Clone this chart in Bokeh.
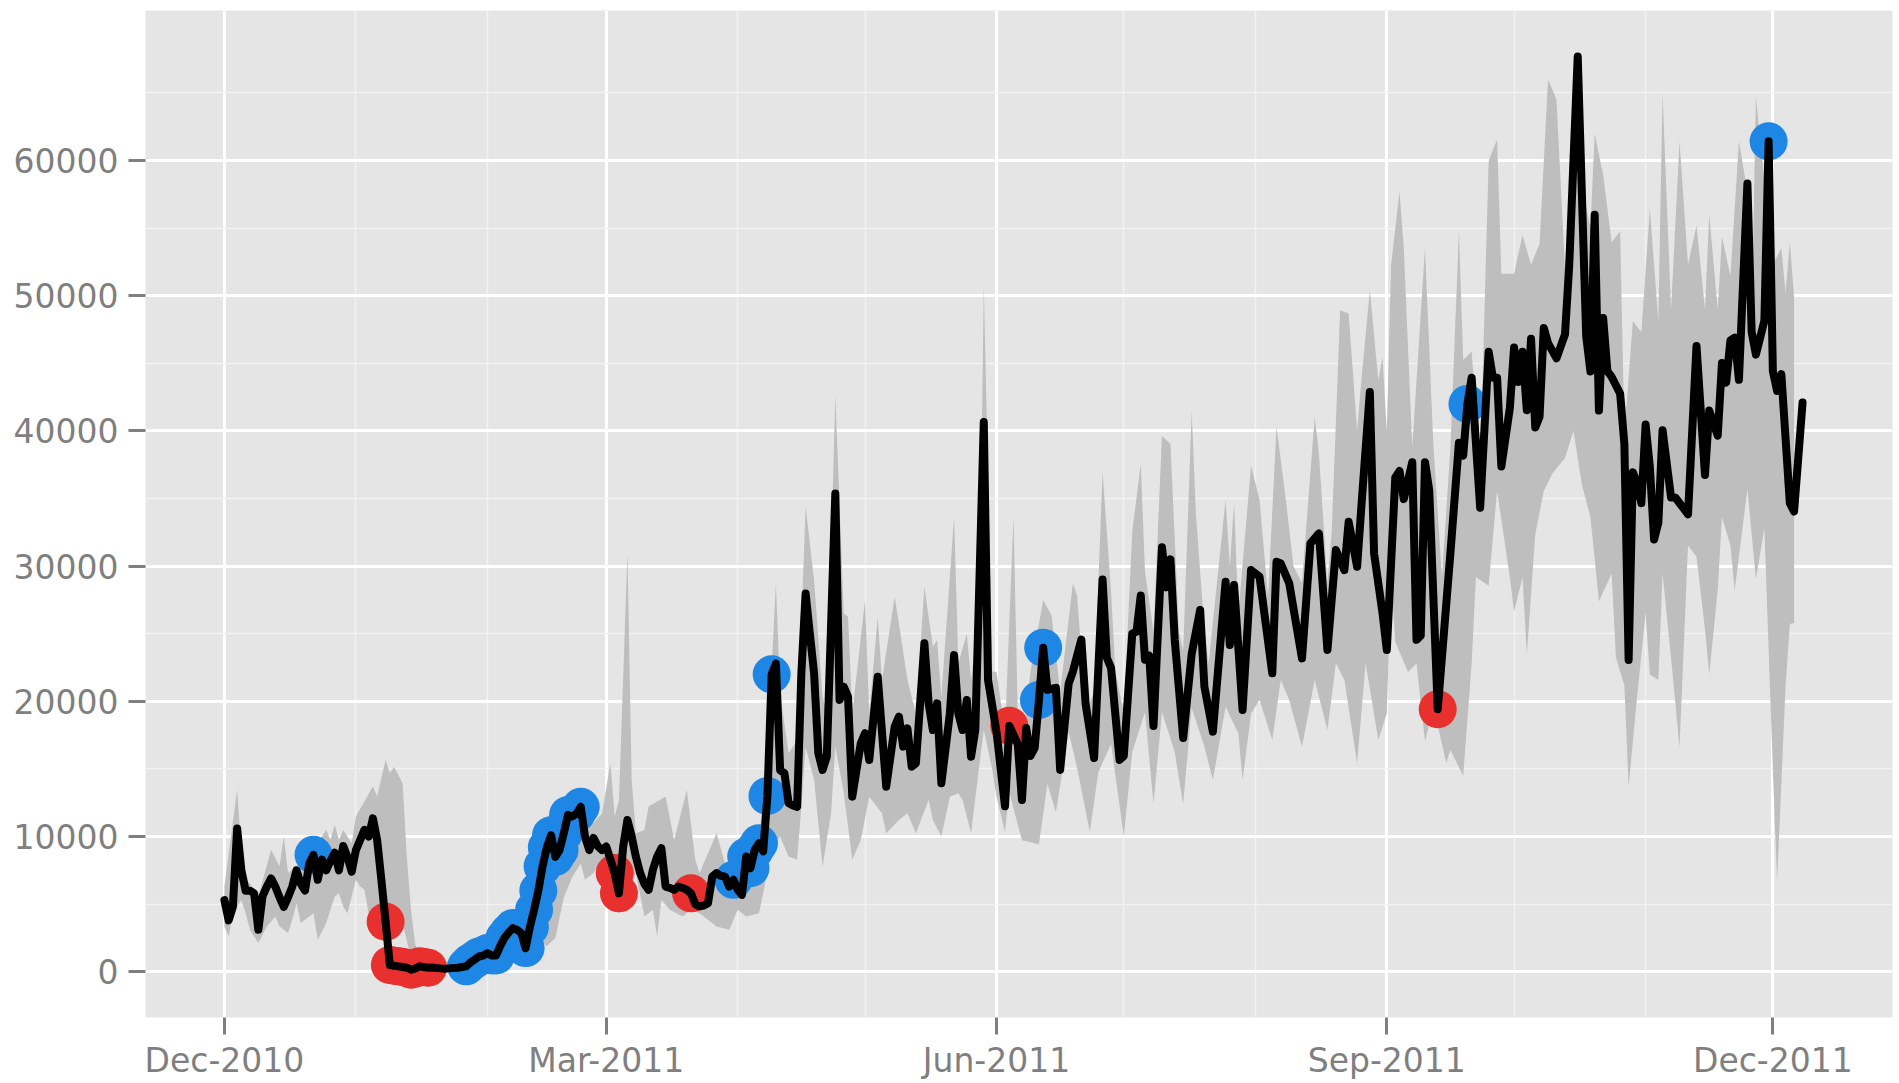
import pandas as pd
from bokeh.plotting import figure
from bokeh.models import Range1d, FixedTicker, DatetimeTickFormatter
from bokeh.embed import file_html
from bokeh.resources import INLINE

START = pd.Timestamp("2010-12-01")

# ---- observed daily series (day offset from 2010-12-01, value) ----
line_day = [0, 1, 2, 3, 4, 5, 6, 7, 8, 9, 10, 11, 12, 13, 14, 15, 16, 17, 18, 19, 20, 21, 22, 23, 24, 25, 26, 27, 28, 29,
            30, 31, 32, 33, 34, 35, 36, 37, 38, 39, 40, 41, 42, 43, 44, 45, 46, 47, 48, 49, 50, 51, 52, 53, 54, 55, 56, 57,
            58, 59, 60, 61, 62, 63, 64, 65, 66, 67, 68, 69, 70, 71, 72, 73, 74, 75, 76, 77, 78, 79, 80, 81, 82, 83, 84, 85,
            86, 87, 88, 89, 90, 91, 92, 93, 94, 95, 96, 97, 98, 99, 100, 101, 102, 103, 104, 105, 106, 107, 108, 109, 110,
            111, 112, 113, 114, 115, 116, 117, 118, 119, 120, 121, 122, 123, 124, 125, 126, 127, 128, 129, 130, 131, 132,
            133, 134, 135, 136, 137, 138, 139, 140, 141, 142, 144, 145, 146, 147, 148, 150, 151, 152, 154, 156, 158, 159,
            160, 161, 162, 163, 165, 166, 167, 168, 169, 171, 172, 173, 174, 175, 176, 177, 179, 180, 182, 184, 185, 187,
            188, 189, 190, 191, 192, 193, 194, 196, 197, 199, 200, 202, 203, 205, 207, 208, 209, 211, 212, 214, 215, 216,
            217, 218, 219, 221, 222, 223, 224, 226, 228, 230, 231, 233, 236, 237, 238, 240, 242, 244, 247, 248, 249, 251,
            254, 256, 258, 260, 262, 264, 265, 267, 268, 270, 271, 273, 274, 276, 277, 278, 280, 281, 282, 283, 284, 286,
            289, 291, 292, 293, 294, 296, 298, 299, 300, 301, 303, 304, 305, 306, 307, 308, 309, 310, 311, 312, 314, 316,
            317, 319, 321, 322, 323, 324, 325, 326, 327, 328, 329, 330, 331, 332, 333, 334, 335, 336, 337, 338, 339, 341,
            342, 344, 345, 347, 349, 350, 352, 353, 354, 355, 356, 357, 359, 360, 361, 363, 364, 365, 366, 367, 369, 370,
            372]
line_val = [5300, 3800, 4800, 10600, 7500, 6000, 6000, 5800, 3100, 5600, 6300, 6900, 6300, 5500, 4800, 5500, 6300, 7500,
            6500, 6000, 8000, 8650, 6800, 8300, 7500, 8200, 8800, 7500, 9300, 8500, 7400, 9000, 9750, 10500, 10000, 11350,
            9750, 6800, 3700, 500, 450, 400, 350, 300, 150, 250, 400, 350, 300, 320, 280, 250, 230, 250, 270, 300, 350, 400,
            700, 900, 1130, 1200, 1380, 1200, 1200, 1900, 2500, 2900, 3230, 3100, 2860, 1750, 3300, 4580, 6000, 7800, 9200,
            10100, 8500, 9000, 10250, 11600, 11480, 11700, 12200, 10000, 9000, 9900, 9300, 9000, 9260, 8300, 7300, 5800,
            9260, 11230, 10000, 8500, 7300, 6500, 6060, 7540, 8500, 9140, 6300, 6200, 6060, 6300, 6200, 6060, 5800, 5000,
            4830, 4900, 5070, 7040, 7300, 7100, 7040, 6300, 6800, 6060, 5690, 8520, 7660, 9010, 9500, 8900, 13000, 22000,
            22800, 14900, 14700, 12460, 12300, 12200, 22070, 27980, 25000, 22070, 16160, 14930, 15910, 35370, 20100, 21080,
            20340, 12950, 16900, 17640, 15660, 21820, 13690, 18130, 18870, 16650, 18000, 15170, 15420, 24290, 19850, 17880,
            19850, 13940, 19110, 23420, 19110, 17880, 20100, 15910, 17880, 40660, 21580, 17740, 12240, 18200, 16850, 12700,
            18030, 15960, 16560, 20100, 23970, 20860, 21000, 14930, 21300, 22200, 24570, 19820, 15810, 29020, 23230, 22480,
            15670, 15960, 25010, 25160, 27830, 23080, 23380, 18180, 31400, 28430, 30500, 24570, 17290, 23500, 26760, 21090,
            17760, 28850, 24170, 28600, 19360, 29710, 29220, 22080, 30330, 30200, 28730, 23180, 31690, 32420, 23800, 31190,
            29710, 33280, 29960, 34390, 42890, 30940, 26510, 23800, 36560, 37040, 34960, 37690, 24550, 24860, 37690, 35600,
            19420, 31000, 39130, 38170, 42000, 43940, 34320, 45860, 43940, 43940, 37370, 41690, 46180, 43620, 45860, 41540,
            46820, 40250, 41050, 47620, 46500, 45380, 47140, 52270, 67700, 47000, 44400, 56000, 41510, 48350, 44420, 44000,
            43380, 42760, 39020, 23060, 36950, 36120, 34660, 40470, 37360, 31970, 33210, 40060, 35080, 35080, 34250, 33840,
            46280, 36740, 41510, 39650, 45030, 43580, 46700, 46900, 43790, 58310, 47320, 45650, 48150, 61420, 44420, 42960,
            44200, 34660, 34040, 42100]

# ---- expected band (upper / lower bounds) ----
upper_day = [0, 3, 4, 5, 6, 8, 11, 13, 14, 15, 17, 19, 21, 24, 25, 26, 27, 28, 30, 31, 33, 35, 36, 38, 39, 40, 42, 43, 44,
             45, 46, 50, 56, 58, 62, 64, 66, 68, 70, 72, 74, 76, 78, 80, 82, 84, 85, 87, 89, 91, 92, 93, 95, 96, 97, 99,
             100, 104, 106, 109, 111, 112, 116, 118, 120, 123, 126, 128, 130, 131, 133, 135, 137, 139, 141, 142, 144, 146,
             147, 148, 151, 152, 154, 155, 158, 159, 161, 163, 165, 167, 168, 169, 172, 173, 175, 176, 178, 179, 181, 182,
             184, 186, 187, 188, 190, 193, 195, 197, 200, 201, 203, 205, 207, 209, 210, 212, 214, 216, 217, 219, 221, 223,
             225, 226, 228, 229, 231, 232, 236, 237, 238, 239, 242, 244, 246, 248, 250, 252, 254, 257, 258, 260, 261, 263,
             265, 267, 268, 270, 272, 273, 274, 275, 277, 278, 280, 283, 285, 287, 289, 291, 292, 294, 296, 298, 300, 301,
             304, 306, 308, 310, 312, 314, 316, 318, 319, 320, 322, 323, 325, 327, 329, 330, 332, 334, 336, 338, 339, 341,
             343, 345, 347, 349, 350, 352, 353, 355, 357, 359, 360, 361, 363, 365, 367, 368, 369, 370]
upper_val = [6300, 13450, 9000, 6800, 6550, 5570, 9000, 7800, 10000, 7300, 7800, 8500, 9000, 10500, 9750, 10860, 9750,
             10500, 9500, 11480, 12590, 13700, 12960, 15660, 14680, 15170, 13940, 8500, 4500, 2000, 1000, 800, 800, 1500,
             2000, 2500, 3200, 4000, 3500, 5500, 8000, 10500, 9500, 11500, 13000, 13500, 11700, 11000, 11700, 15420, 11480,
             12700, 30940, 14190, 10250, 10490, 12220, 12960, 9750, 13450, 8280, 7290, 10250, 8030, 8280, 9260, 9750, 16160,
             28700, 20590, 16160, 17140, 34400, 28960, 20340, 19110, 42630, 26500, 26250, 19110, 27490, 19110, 26250, 21580,
             27730, 25760, 21580, 19110, 28470, 24040, 24530, 20340, 33640, 22800, 25020, 21580, 26500, 50800, 22190, 22190,
             17740, 33620, 19220, 16850, 22190, 27500, 26340, 20700, 28720, 27830, 19220, 20700, 36960, 28130, 22190, 19220,
             32590, 37550, 29610, 25160, 39630, 39040, 25160, 23680, 41500, 33900, 25280, 22820, 34930, 30000, 34690, 26510,
             37400, 34930, 27740, 40300, 35420, 30000, 28760, 41040, 38330, 28760, 32460, 48930, 48680, 40050, 43750, 50410,
             43750, 45480, 40000, 52270, 57720, 53530, 38820, 53530, 38820, 29190, 38820, 54800, 45240, 45870, 37220, 59960,
             61560, 51630, 51630, 54490, 52270, 53850, 66000, 64500, 52000, 60000, 66000, 58000, 55000, 62000, 58930, 53950,
             54780, 39850, 48140, 47310, 56440, 48140, 64940, 48970, 61420, 52290, 55200, 48970, 56030, 48970, 54370, 51460,
             61420, 57690, 48140, 64720, 58520, 52290, 53530, 50210, 54000, 49900]
lower_day = [0, 1, 2, 4, 5, 6, 8, 10, 12, 13, 15, 16, 17, 18, 21, 22, 24, 26, 27, 28, 29, 31, 32, 33, 34, 36, 38, 40, 42,
             44, 46, 56, 58, 62, 66, 70, 72, 74, 76, 78, 80, 82, 84, 85, 87, 89, 91, 93, 95, 97, 99, 101, 102, 103, 105,
             108, 110, 112, 116, 119, 121, 123, 126, 127, 129, 131, 133, 135, 136, 137, 139, 141, 143, 144, 146, 148, 150,
             152, 155, 156, 159, 161, 163, 166, 167, 169, 171, 173, 174, 176, 178, 179, 181, 182, 184, 185, 188, 192, 194,
             196, 199, 201, 204, 206, 209, 212, 214, 217, 219, 221, 224, 226, 228, 231, 233, 236, 239, 240, 242, 244, 247,
             249, 251, 254, 257, 260, 262, 264, 267, 269, 272, 274, 275, 276, 279, 281, 283, 285, 288, 289, 292, 294, 295,
             298, 300, 303, 304, 306, 307, 309, 311, 313, 316, 318, 320, 322, 324, 327, 328, 330, 331, 333, 335, 336, 338,
             339, 341, 343, 345, 347, 349, 350, 352, 353, 355, 356, 359, 361, 363, 365, 366, 368, 369, 370]
lower_val = [3350, 2610, 4330, 5300, 4330, 3100, 2120, 3350, 4090, 3350, 2860, 3840, 5070, 3600, 4330, 2360, 3600, 5570,
             5800, 4830, 4330, 6800, 6300, 6060, 4330, 3840, 3200, 5000, 3600, 1000, 0, 0, 300, 700, 1500, 1000, 1500, 2500,
             1900, 2500, 5500, 7000, 8000, 6800, 7300, 8280, 5070, 4330, 6060, 7290, 4090, 4580, 2610, 5320, 4580, 4090,
             4580, 4330, 3350, 3100, 4580, 4090, 4330, 5810, 9000, 10000, 8500, 8300, 12200, 16650, 14190, 7780, 11720,
             16650, 13200, 8280, 9750, 12950, 11720, 10250, 11230, 11720, 10250, 12700, 11230, 10000, 12950, 13200, 12700,
             10250, 15420, 17880, 14930, 12950, 10320, 13290, 9720, 9430, 13880, 11800, 17740, 15070, 10320, 14770, 16850,
             10020, 16250, 19220, 12400, 19220, 16250, 12400, 19500, 16650, 14190, 19610, 17640, 14190, 19110, 20100, 17150,
             21580, 20100, 16650, 21580, 17880, 22820, 21580, 15420, 22820, 17150, 19110, 29190, 24400, 22170, 22800, 17040,
             19590, 15460, 16400, 14490, 22800, 29190, 28560, 35560, 29190, 26620, 29190, 23440, 32380, 35560, 36840, 38000,
             40000, 36000, 33610, 27390, 29460, 23240, 21170, 13700, 20340, 26560, 21990, 21580, 29460, 23240, 16600, 31530,
             30700, 25310, 21990, 28220, 33610, 31530, 28220, 35680, 29050, 32780, 14940, 6650, 21170, 25730, 25800]

# ---- flagged days ----
red_day = [38, 39, 40, 41, 42, 43, 44, 45, 46, 47, 48, 92, 93, 110, 185, 286]
blue_day = [21, 57, 58, 59, 60, 61, 62, 63, 64, 65, 66, 67, 68, 69, 70, 71, 72, 73, 74, 75, 76, 77, 78, 79, 80, 81, 82,
            83, 84, 120, 123, 124, 125, 126, 128, 129, 192, 193, 293, 364]

y_ticks = [0, 10000, 20000, 30000, 40000, 50000, 60000]
y_minor = [5000, 15000, 25000, 35000, 45000, 55000, 65000]
x_major = ["2010-12-01", "2011-03-01", "2011-06-01", "2011-09-01", "2011-12-01"]
x_minor = ["2011-01-01", "2011-02-01", "2011-04-01", "2011-05-01", "2011-07-01", "2011-08-01", "2011-10-01", "2011-11-01"]


def to_dates(days):
    return [(START + pd.Timedelta(days=d)).to_pydatetime() for d in days]


def to_ms(s):
    return (pd.Timestamp(s) - pd.Timestamp("1970-01-01")) // pd.Timedelta(milliseconds=1)


val_of = dict(zip(line_day, line_val))

p = figure(width=1899, height=1083, output_backend="svg", toolbar_location=None,
           x_axis_type="datetime",
           x_range=Range1d((START - pd.Timedelta(days=18.6)).to_pydatetime(),
                           (START + pd.Timedelta(days=393.2)).to_pydatetime()),
           y_range=Range1d(-3383, 71100),
           min_border_left=145, min_border_right=7, min_border_top=10, min_border_bottom=66)

p.background_fill_color = "#E5E5E5"
p.border_fill_color = "white"
p.outline_line_color = None

# band
bx = to_dates(upper_day) + to_dates(lower_day)[::-1]
by = upper_val + lower_val[::-1]
p.patch(bx, by, fill_color="#BEBEBE", line_color=None)

# flagged points
p.scatter(to_dates(red_day), [val_of[d] for d in red_day], size=38, fill_color="#E8302E", line_color=None)
p.scatter(to_dates(blue_day), [val_of[d] for d in blue_day], size=38, fill_color="#1E87E5", line_color=None)

# series line
p.line(to_dates(line_day), line_val, line_color="black", line_width=8, line_join="round", line_cap="round")

xt = FixedTicker(ticks=[to_ms(s) for s in x_major], minor_ticks=[to_ms(s) for s in x_minor])
yt = FixedTicker(ticks=y_ticks, minor_ticks=y_minor)
p.xaxis.ticker = xt
p.yaxis.ticker = yt
p.xgrid.ticker = xt
p.ygrid.ticker = yt
p.xaxis.formatter = DatetimeTickFormatter(days="%b-%Y", months="%b-%Y", years="%b-%Y")

for g in (p.xgrid, p.ygrid):
    g.grid_line_color = "white"
    g.grid_line_width = 3
    g.minor_grid_line_color = "#F2F2F2"
    g.minor_grid_line_width = 1.5

for ax in (p.xaxis, p.yaxis):
    ax.axis_line_color = None
    ax.major_tick_line_color = "#7F7F7F"
    ax.major_tick_line_width = 3
    ax.major_tick_in = 0
    ax.major_tick_out = 17
    ax.minor_tick_line_color = None
    ax.major_label_text_color = "#7F7F7F"
    ax.major_label_text_font = "DejaVu Sans"
    ax.major_label_text_font_size = "33px"

p.xaxis.major_label_standoff = 6
p.yaxis.major_label_standoff = 10

open("out.html", "w").write(file_html(p, INLINE))
